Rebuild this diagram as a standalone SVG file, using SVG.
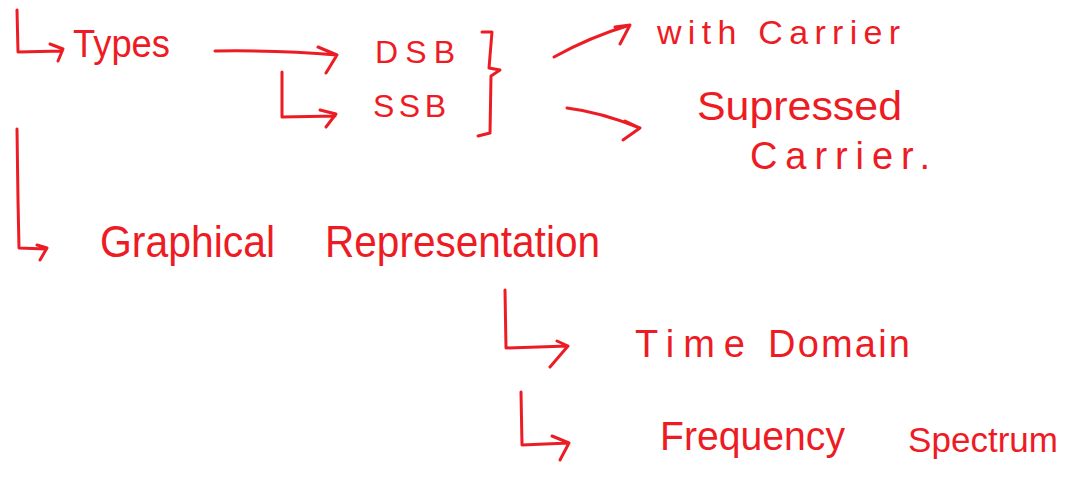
<svg xmlns="http://www.w3.org/2000/svg" width="1076" height="493" viewBox="0 0 1076 493">
<style>
.ln{fill:none;stroke:#ED1C24;stroke-width:3;stroke-linecap:round;stroke-linejoin:round}
.t{fill:#ED1C24;font-family:"Liberation Sans","DejaVu Sans",sans-serif;font-weight:normal}
</style>
<rect width="1076" height="493" fill="#ffffff"/>
<g id="connectors">
<path class="ln" d="M17,10 L18,52 L62,51 M50,44 L63,49 L58,61"/>
<path class="ln" d="M215,51 Q280,50 337,55 M318,47 L337,55 L326,73"/>
<path class="ln" d="M282,72 L282,117 L335,116 M320,110 L336,114 L326,127"/>
<path class="ln" d="M482,32 L492,32 L489,68 L500,70 L491,76 L490,133 L478,136"/>
<path class="ln" d="M554,57 Q590,37 630,25 M615,27 L630,25 L620,44"/>
<path class="ln" d="M567,108 Q600,112 640,128 M625,121 L640,128 L623,140"/>
<path class="ln" d="M17,129 L18,200 L19,248 L46,249 M37,245 L47,248 L40,260"/>
<path class="ln" d="M505,290 L506,348 L568,346 M557,341 L568,346 L550,367"/>
<path class="ln" d="M521,392 L522,445 L569,443 M552,436 L569,443 L560,460"/>
</g>
<g id="types"><text class="t" x="73" y="57" font-size="38" textLength="97" lengthAdjust="spacingAndGlyphs">Types</text></g>
<g id="dsb"><text class="t" x="375" y="63" font-size="32" textLength="80" lengthAdjust="spacing">DSB</text></g>
<g id="ssb"><text class="t" x="373" y="117" font-size="32" textLength="73" lengthAdjust="spacing">SSB</text></g>
<g id="with-carrier"><text class="t" x="657" y="44" font-size="34" textLength="243" lengthAdjust="spacing">with Carrier</text></g>
<g id="suppressed-carrier">
<text class="t" x="697" y="120" font-size="40" textLength="205" lengthAdjust="spacingAndGlyphs">Supressed</text>
<text class="t" x="750" y="169" font-size="38" textLength="180" lengthAdjust="spacing">Carrier.</text>
</g>
<g id="graphical">
<text class="t" x="100" y="257" font-size="44" textLength="175" lengthAdjust="spacingAndGlyphs">Graphical</text>
<text class="t" x="325" y="257" font-size="44" textLength="275" lengthAdjust="spacingAndGlyphs">Representation</text>
</g>
<g id="time-domain">
<text class="t" x="635" y="357" font-size="38" textLength="110" lengthAdjust="spacing">Time</text>
<text class="t" x="768" y="357" font-size="38" textLength="142" lengthAdjust="spacing">Domain</text>
</g>
<g id="frequency-spectrum">
<text class="t" x="660" y="450" font-size="40" textLength="185" lengthAdjust="spacingAndGlyphs">Frequency</text>
<text class="t" x="908" y="452" font-size="35" textLength="150" lengthAdjust="spacing">Spectrum</text>
</g>
</svg>
